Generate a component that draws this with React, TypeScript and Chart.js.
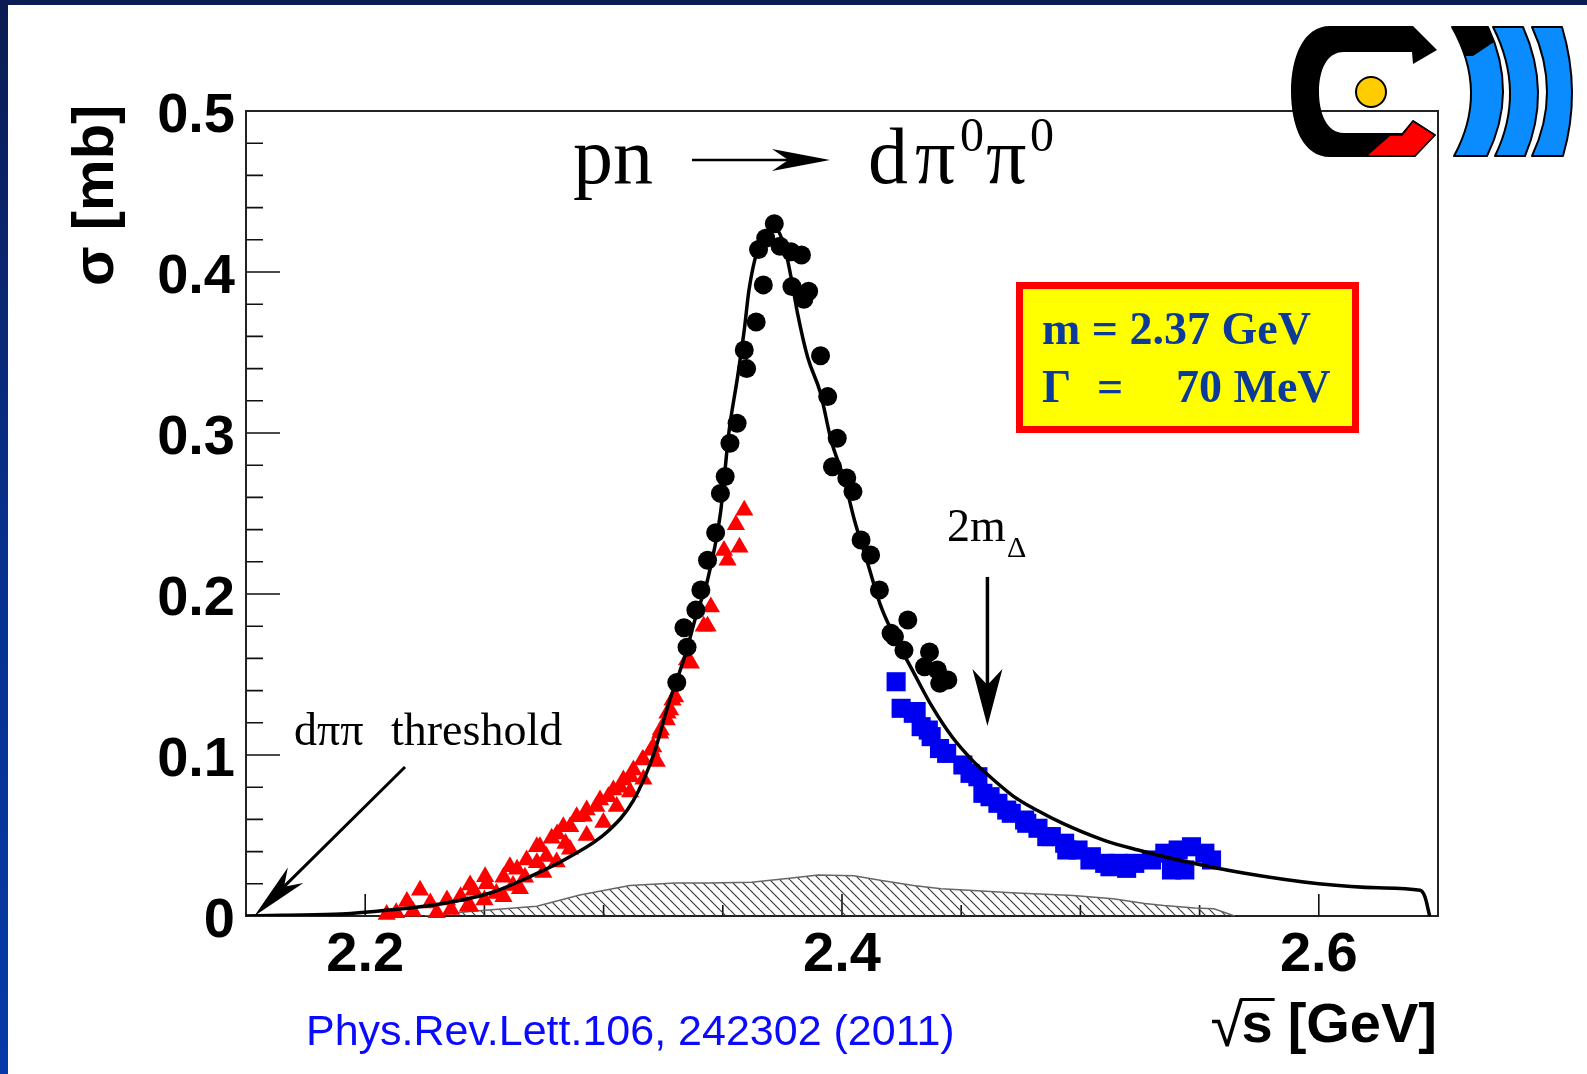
import React, { useEffect, useRef } from 'react';
import { Chart, registerables } from 'chart.js';

Chart.register(...registerables);

const SANS = '"Liberation Sans", Arial, Helvetica, sans-serif';
const SERIF = '"Liberation Serif", "Times New Roman", serif';

// ---- axes ----
const X_MIN = 2.15;
const X_MAX = 2.65;
const Y_MIN = 0;
const Y_MAX = 0.5;
const xTickValues = [2.2, 2.4, 2.6];
const yTickValues = [0, 0.1, 0.2, 0.3, 0.4, 0.5];
const xMinorTickValues = [2.25, 2.3, 2.35, 2.45, 2.5, 2.55];
const yMinorTickValues = [
  0.02, 0.04, 0.06, 0.08, 0.12, 0.14, 0.16, 0.18, 0.22, 0.24, 0.26, 0.28,
  0.32, 0.34, 0.36, 0.38, 0.42, 0.44, 0.46, 0.48,
];

// ---- data: sqrt(s) [GeV], sigma [mb] ----
// WASA data (black circles)
const wasaPoints: [number, number][] = [
  [2.3307, 0.145], [2.335, 0.167], [2.3337, 0.179], [2.3387, 0.19], [2.3408, 0.2025],
  [2.3436, 0.221], [2.347, 0.238], [2.349, 0.2625], [2.351, 0.273], [2.353, 0.2936],
  [2.356, 0.306], [2.36, 0.34], [2.359, 0.3516], [2.364, 0.369], [2.367, 0.392],
  [2.365, 0.414], [2.368, 0.421], [2.3716, 0.43], [2.374, 0.416], [2.3786, 0.4126],
  [2.383, 0.4106], [2.379, 0.391], [2.386, 0.388], [2.384, 0.383], [2.391, 0.348],
  [2.394, 0.3226], [2.398, 0.2967], [2.396, 0.279], [2.402, 0.272], [2.4046, 0.2636],
  [2.408, 0.2335], [2.412, 0.2242], [2.4157, 0.2025], [2.4206, 0.1756], [2.4276, 0.1839],
  [2.422, 0.1735], [2.426, 0.165], [2.4367, 0.164], [2.4346, 0.1548], [2.44, 0.1528],
  [2.4444, 0.1466], [2.441, 0.1445],
];

// earlier data, low-energy side (red triangles)
const redTriangles: [number, number][] = [
  [2.209, 0.001], [2.213, 0.002], [2.2175, 0.009], [2.22, 0.003], [2.223, 0.016],
  [2.2273, 0.008], [2.23, 0.002], [2.2343, 0.01], [2.236, 0.004], [2.24, 0.012],
  [2.243, 0.006], [2.2455, 0.016], [2.25, 0.01], [2.251, 0.02], [2.255, 0.014],
  [2.258, 0.024], [2.262, 0.019], [2.2637, 0.029], [2.267, 0.024], [2.272, 0.033],
  [2.272, 0.043], [2.276, 0.037], [2.2805, 0.051], [2.284, 0.045], [2.286, 0.0555],
  [2.2917, 0.062], [2.297, 0.068], [2.302, 0.074], [2.307, 0.08], [2.3113, 0.0865],
  [2.3163, 0.097], [2.32, 0.103], [2.324, 0.1155], [2.3268, 0.126], [2.3289, 0.134],
  [2.335, 0.159], [2.3366, 0.157], [2.342, 0.18], [2.3436, 0.18], [2.345, 0.192],
  [2.3505, 0.227], [2.352, 0.221], [2.3555, 0.243], [2.357, 0.229], [2.359, 0.252],
  [2.244, 0.0193], [2.2503, 0.0244], [2.2607, 0.0306], [2.2677, 0.0348], [2.2733, 0.043],
  [2.2782, 0.0483], [2.2831, 0.0555], [2.2887, 0.0617], [2.2929, 0.0658], [2.2985, 0.072],
  [2.3041, 0.0783], [2.3083, 0.0845], [2.3125, 0.0907], [2.3167, 0.0969], [2.3208, 0.105],
  [2.3237, 0.1135], [2.3265, 0.1217], [2.3279, 0.128], [2.33, 0.136],
  [2.244, 0.006], [2.258, 0.012], [2.2649, 0.017], [2.2747, 0.027], [2.2803, 0.0335],
  [2.2859, 0.0415], [2.2929, 0.05], [2.2999, 0.058], [2.3055, 0.068], [2.3111, 0.077],
  [2.3167, 0.085], [2.3223, 0.096],
];

// earlier data, high-energy side (blue squares)
const blueSquares: [number, number][] = [
  [2.4227, 0.1455], [2.4248, 0.129], [2.4311, 0.127], [2.4332, 0.1176], [2.4374, 0.1114],
  [2.4409, 0.104], [2.4507, 0.0938], [2.457, 0.0865], [2.4591, 0.0762], [2.4654, 0.07],
  [2.471, 0.0638], [2.4766, 0.0596], [2.4822, 0.0545], [2.4878, 0.0493], [2.4934, 0.0452],
  [2.499, 0.041], [2.5046, 0.0368], [2.5102, 0.0327], [2.5158, 0.0327], [2.5228, 0.0327],
  [2.5298, 0.0348], [2.5354, 0.039], [2.541, 0.041], [2.5466, 0.043], [2.5522, 0.039],
  [2.555, 0.0348], [2.5438, 0.0286], [2.5382, 0.0286],
  [2.4299, 0.1259], [2.4362, 0.1155], [2.4439, 0.101], [2.4537, 0.0886], [2.4621, 0.0741],
  [2.4691, 0.0658], [2.4775, 0.0576], [2.4859, 0.0493], [2.4943, 0.041], [2.504, 0.0348],
  [2.5124, 0.0306], [2.5194, 0.0296],
];

// resonance fit (black curve)
const fitCurve: [number, number][] = [
  [2.15, 0.0], [2.165, 0.0005], [2.19, 0.0012], [2.21, 0.0037], [2.2315, 0.0075],
  [2.2525, 0.0143], [2.2677, 0.0235], [2.2849, 0.036], [2.3017, 0.0525], [2.3124, 0.0715],
  [2.3209, 0.1], [2.3273, 0.132], [2.3342, 0.162], [2.3391, 0.188],
  [2.3436, 0.2087], [2.349, 0.25], [2.3527, 0.302], [2.356, 0.333], [2.359, 0.364],
  [2.361, 0.389], [2.3646, 0.4137], [2.3688, 0.422], [2.3716, 0.428], [2.3758, 0.416],
  [2.3786, 0.397], [2.3814, 0.374], [2.3856, 0.347], [2.391, 0.3247], [2.3954, 0.2957],
  [2.401, 0.2708], [2.4052, 0.246], [2.4108, 0.219], [2.4164, 0.192], [2.424, 0.168],
  [2.4294, 0.153], [2.4378, 0.13], [2.4463, 0.111], [2.4548, 0.0965], [2.4598, 0.0895],
  [2.4718, 0.0745], [2.482, 0.0655], [2.4926, 0.0575], [2.51, 0.047], [2.5242, 0.041],
  [2.544, 0.0338], [2.569, 0.0265], [2.6, 0.02], [2.625, 0.0175], [2.6425, 0.016],
  [2.6445, 0.012], [2.6465, 0.0],
];

// systematic uncertainty (hatched band)
const sysBand: [number, number][] = [
  [2.225, 0], [2.245, 0.003], [2.272, 0.006], [2.29, 0.013], [2.311, 0.019],
  [2.33, 0.0205], [2.344, 0.0205], [2.362, 0.021], [2.378, 0.0235], [2.39, 0.0255],
  [2.405, 0.025], [2.4166, 0.022], [2.43, 0.019], [2.4416, 0.017], [2.455, 0.0158],
  [2.471, 0.0145], [2.497, 0.0127], [2.5137, 0.0107], [2.527, 0.0078], [2.535, 0.0065],
  [2.548, 0.005], [2.556, 0.0045], [2.5647, 0],
];

const toXY = (arr: [number, number][]) => arr.map(([x, y]) => ({ x, y }));

function drawArrow(
  ctx: CanvasRenderingContext2D,
  x1: number, y1: number, x2: number, y2: number,
  headLen: number, halfW: number, lw: number,
) {
  const ang = Math.atan2(y2 - y1, x2 - x1);
  const c = Math.cos(ang);
  const s = Math.sin(ang);
  const bx = x2 - c * headLen;
  const by = y2 - s * headLen;
  const nx = x2 - c * headLen * 0.72;
  const ny = y2 - s * headLen * 0.72;
  ctx.strokeStyle = '#000';
  ctx.fillStyle = '#000';
  ctx.lineWidth = lw;
  ctx.beginPath();
  ctx.moveTo(x1, y1);
  ctx.lineTo(nx, ny);
  ctx.stroke();
  ctx.beginPath();
  ctx.moveTo(x2, y2);
  ctx.lineTo(bx - s * halfW, by + c * halfW);
  ctx.lineTo(nx, ny);
  ctx.lineTo(bx + s * halfW, by - c * halfW);
  ctx.closePath();
  ctx.fill();
}

function bandPath(
  ctx: CanvasRenderingContext2D,
  tl: number, tr: number, ml: number, mr: number, bl: number, br: number,
  top: number, mid: number, bot: number,
) {
  const cl = (4 * ml - tl - bl) / 2;
  const cr = (4 * mr - tr - br) / 2;
  ctx.beginPath();
  ctx.moveTo(tl, top);
  ctx.quadraticCurveTo(cl, mid, bl, bot);
  ctx.lineTo(br, bot);
  ctx.quadraticCurveTo(cr, mid, tr, top);
  ctx.closePath();
}

function drawLogo(ctx: CanvasRenderingContext2D) {
  ctx.save();
  ctx.lineJoin = 'round';
  // black C
  ctx.beginPath();
  ctx.moveTo(1413, 26);
  ctx.lineTo(1330, 26);
  ctx.bezierCurveTo(1303, 26, 1291, 58, 1291, 91);
  ctx.bezierCurveTo(1291, 126, 1303, 157, 1330, 157);
  ctx.lineTo(1415, 157);
  ctx.lineTo(1436, 135);
  ctx.lineTo(1413, 120);
  ctx.lineTo(1402, 133);
  ctx.lineTo(1344, 133);
  ctx.bezierCurveTo(1326, 133, 1319, 112, 1319, 92);
  ctx.bezierCurveTo(1319, 71, 1326, 52, 1344, 52);
  ctx.lineTo(1412, 52);
  ctx.lineTo(1413, 64);
  ctx.lineTo(1437, 50);
  ctx.closePath();
  ctx.fillStyle = '#000';
  ctx.fill();
  // red segment
  ctx.beginPath();
  ctx.moveTo(1366, 156);
  ctx.lineTo(1390, 135);
  ctx.lineTo(1402, 135);
  ctx.lineTo(1413, 121);
  ctx.lineTo(1435, 135);
  ctx.lineTo(1415, 156);
  ctx.closePath();
  ctx.fillStyle = '#ff0000';
  ctx.fill();
  ctx.strokeStyle = '#000';
  ctx.lineWidth = 1.5;
  ctx.stroke();
  // yellow dot
  ctx.beginPath();
  ctx.arc(1371, 92, 15, 0, Math.PI * 2);
  ctx.fillStyle = '#ffcc00';
  ctx.fill();
  ctx.lineWidth = 2;
  ctx.stroke();
  // blue arcs
  const bands = [
    [1452, 1488, 1471, 1503, 1454, 1487],
    [1493, 1523, 1510, 1538, 1495, 1525],
    [1532, 1562, 1547, 1572, 1532, 1563],
  ];
  bands.forEach((b, i) => {
    bandPath(ctx, b[0], b[1], b[2], b[3], b[4], b[5], 27, 92, 156);
    ctx.fillStyle = '#0a8cff';
    ctx.fill();
    if (i === 0) {
      ctx.save();
      ctx.clip();
      ctx.beginPath();
      ctx.moveTo(1440, 20);
      ctx.lineTo(1500, 20);
      ctx.lineTo(1500, 38);
      ctx.lineTo(1473, 56);
      ctx.lineTo(1440, 56);
      ctx.closePath();
      ctx.fillStyle = '#000';
      ctx.fill();
      ctx.restore();
      bandPath(ctx, b[0], b[1], b[2], b[3], b[4], b[5], 27, 92, 156);
    }
    ctx.strokeStyle = '#000';
    ctx.lineWidth = 2;
    ctx.stroke();
  });
  ctx.restore();
}

const decorPlugin = {
  id: 'decor',
  beforeDraw(chart: any) {
    const ctx: CanvasRenderingContext2D = chart.ctx;
    ctx.save();
    ctx.fillStyle = '#ffffff';
    ctx.fillRect(0, 0, chart.width, chart.height);
    const g = ctx.createLinearGradient(0, 0, 0, chart.height);
    g.addColorStop(0, '#0b1c52');
    g.addColorStop(0.5, '#08308c');
    g.addColorStop(1, '#063aa8');
    ctx.fillStyle = g;
    ctx.fillRect(0, 0, 8, chart.height);
    ctx.fillStyle = '#0b1c52';
    ctx.fillRect(0, 0, chart.width, 5);
    ctx.restore();
  },
  beforeDatasetsDraw(chart: any) {
    const ctx: CanvasRenderingContext2D = chart.ctx;
    const a = chart.chartArea;
    const xs = chart.scales.x;
    const ys = chart.scales.y;
    ctx.save();
    ctx.strokeStyle = '#111';
    ctx.lineWidth = 1.6;
    ctx.beginPath();
    yTickValues.forEach((v) => {
      const p = ys.getPixelForValue(v);
      ctx.moveTo(a.left, p);
      ctx.lineTo(a.left + 34, p);
    });
    yMinorTickValues.forEach((v) => {
      const p = ys.getPixelForValue(v);
      ctx.moveTo(a.left, p);
      ctx.lineTo(a.left + 17, p);
    });
    xTickValues.forEach((v) => {
      const p = xs.getPixelForValue(v);
      ctx.moveTo(p, a.bottom);
      ctx.lineTo(p, a.bottom - 22);
    });
    xMinorTickValues.forEach((v) => {
      const p = xs.getPixelForValue(v);
      ctx.moveTo(p, a.bottom);
      ctx.lineTo(p, a.bottom - 11);
    });
    ctx.stroke();
    ctx.lineWidth = 2;
    ctx.strokeStyle = '#222';
    ctx.strokeRect(a.left, a.top, a.right - a.left, a.bottom - a.top);
    ctx.restore();
  },
  afterDraw(chart: any) {
    const ctx: CanvasRenderingContext2D = chart.ctx;
    const xs = chart.scales.x;
    const ys = chart.scales.y;
    ctx.save();
    ctx.fillStyle = '#000';
    ctx.textAlign = 'left';
    ctx.textBaseline = 'alphabetic';

    // title
    ctx.font = `80px ${SERIF}`;
    ctx.fillText('pn', 573, 183);
    ctx.fillText('d', 868, 183);
    ctx.fillText('π', 915, 183);
    ctx.fillText('π', 986, 183);
    ctx.font = `48px ${SERIF}`;
    ctx.fillText('0', 960, 151);
    ctx.fillText('0', 1030, 151);
    drawArrow(ctx, 692, 160, 830, 160, 58, 11, 2.5);

    // threshold annotation
    ctx.font = `46px ${SERIF}`;
    ctx.fillText('dππ', 294, 745);
    ctx.fillText('threshold', 391, 745);
    drawArrow(ctx, 405, 767, xs.getPixelForValue(2.1535), ys.getPixelForValue(0), 58, 11, 3);

    // 2 m_Delta
    ctx.font = `46px ${SERIF}`;
    ctx.fillText('2m', 947, 541);
    ctx.font = `30px ${SERIF}`;
    ctx.fillText('Δ', 1007, 557);
    const xd = xs.getPixelForValue(2.461);
    drawArrow(ctx, xd, ys.getPixelForValue(0.2106), xd, ys.getPixelForValue(0.118), 57, 15, 3.5);

    // parameter box
    ctx.fillStyle = '#ffff00';
    ctx.fillRect(1016, 282, 343, 151);
    ctx.strokeStyle = '#ff0000';
    ctx.lineWidth = 7;
    ctx.strokeRect(1019.5, 285.5, 336, 144);
    ctx.fillStyle = '#0b3a9a';
    ctx.font = `bold 46px ${SERIF}`;
    ctx.fillText('m = 2.37 GeV', 1042, 344);
    ctx.fillText('Γ', 1042, 402);
    ctx.fillText('=', 1097, 402);
    ctx.fillText('70 MeV', 1176, 402);

    // axis titles
    ctx.fillStyle = '#000';
    ctx.save();
    ctx.translate(113, 286);
    ctx.rotate(-Math.PI / 2);
    ctx.font = `bold 58px ${SANS}`;
    ctx.fillText('σ [mb]', 0, 0);
    ctx.restore();

    ctx.font = `bold 56px ${SANS}`;
    ctx.textAlign = 'right';
    ctx.fillText('[GeV]', 1437, 1042);
    const wG = ctx.measureText('[GeV]').width;
    const sRight = 1437 - wG - 15;
    ctx.fillText('s', sRight, 1042);
    const wS = ctx.measureText('s').width;
    const sLeft = sRight - wS;
    ctx.font = `60px ${SANS}`;
    ctx.fillText('√', sLeft + 2, 1046);
    const m = ctx.measureText('√');
    const topY = 1046 - m.actualBoundingBoxAscent;
    ctx.strokeStyle = '#000';
    ctx.lineWidth = 3;
    ctx.beginPath();
    ctx.moveTo(sLeft - 1, topY + 1.5);
    ctx.lineTo(sRight + 2, topY + 1.5);
    ctx.stroke();

    // citation
    ctx.textAlign = 'left';
    ctx.fillStyle = '#0a0aff';
    ctx.font = `43px ${SANS}`;
    ctx.fillText('Phys.Rev.Lett.106, 242302 (2011)', 306, 1045);

    drawLogo(ctx);
    ctx.restore();
  },
};

function makeHatch(ctx: CanvasRenderingContext2D): CanvasPattern | string {
  const c = document.createElement('canvas');
  const s = 10;
  c.width = s;
  c.height = s;
  const g = c.getContext('2d');
  if (!g) return 'rgba(0,0,0,0.2)';
  g.strokeStyle = '#3a3a3a';
  g.lineWidth = 1.2;
  g.beginPath();
  [-s, 0, s].forEach((o) => {
    g.moveTo(o, 0);
    g.lineTo(o + s, s);
  });
  g.stroke();
  return ctx.createPattern(c, 'repeat') || 'rgba(0,0,0,0.2)';
}

export default function App() {
  const ref = useRef<HTMLCanvasElement | null>(null);

  useEffect(() => {
    document.body.style.margin = '0';
    document.body.style.overflow = 'hidden';
    const canvas = ref.current;
    if (!canvas) return;
    const ctx2d = canvas.getContext('2d') as CanvasRenderingContext2D;
    const hatch = makeHatch(ctx2d);
    const tickFont = { family: SANS, size: 56, weight: 'bold' as const, lineHeight: 1 };

    const chart = new Chart(canvas, {
      type: 'line',
      data: {
        datasets: [
          {
            label: 'fit',
            data: toXY(fitCurve),
            borderColor: '#000',
            borderWidth: 3.5,
            pointRadius: 0,
            pointHitRadius: 0,
            fill: false,
            showLine: true,
            cubicInterpolationMode: 'monotone',
            order: 0,
          },
          {
            label: 'WASA',
            data: toXY(wasaPoints),
            showLine: false,
            pointStyle: 'circle',
            pointRadius: 9.5,
            pointBackgroundColor: '#000',
            pointBorderColor: '#000',
            pointBorderWidth: 0,
            order: 1,
          },
          {
            label: 'high',
            data: toXY(blueSquares),
            showLine: false,
            pointStyle: 'rect',
            pointRadius: 13.5,
            pointBackgroundColor: '#0000f0',
            pointBorderColor: '#0000f0',
            pointBorderWidth: 0,
            clip: false,
            order: 2,
          },
          {
            label: 'low',
            data: toXY(redTriangles),
            showLine: false,
            pointStyle: 'triangle',
            pointRadius: 10.5,
            pointBackgroundColor: '#ff0000',
            pointBorderColor: '#ff0000',
            pointBorderWidth: 0,
            clip: false,
            order: 3,
          },
          {
            label: 'sys',
            data: toXY(sysBand),
            borderColor: '#666',
            borderWidth: 1.5,
            backgroundColor: hatch as any,
            fill: 'origin',
            pointRadius: 0,
            pointHitRadius: 0,
            showLine: true,
            tension: 0,
            order: 4,
          },
        ] as any,
      },
      options: {
        animation: false,
        responsive: false,
        maintainAspectRatio: false,
        events: [],
        layout: { padding: { left: 0, top: 111, right: 149, bottom: 0 } },
        plugins: {
          legend: { display: false },
          tooltip: { enabled: false },
          title: { display: false },
        },
        scales: {
          x: {
            type: 'linear',
            min: X_MIN,
            max: X_MAX,
            position: 'bottom',
            afterFit: (s: any) => {
              s.height = 158;
            },
            afterBuildTicks: (s: any) => {
              s.ticks = xTickValues.map((v) => ({ value: v }));
            },
            grid: { display: false, drawTicks: false },
            border: { display: false },
            ticks: {
              font: tickFont,
              color: '#000',
              padding: 12,
              maxRotation: 0,
              minRotation: 0,
              autoSkip: false,
              callback: (v: any) => String(v),
            },
          },
          y: {
            type: 'linear',
            min: Y_MIN,
            max: Y_MAX,
            afterFit: (s: any) => {
              s.width = 246;
            },
            afterBuildTicks: (s: any) => {
              s.ticks = yTickValues.map((v) => ({ value: v }));
            },
            grid: { display: false, drawTicks: false },
            border: { display: false },
            ticks: {
              font: tickFont,
              color: '#000',
              padding: 11,
              labelOffset: 6,
              autoSkip: false,
              callback: (v: any) => String(v),
            },
          },
        },
      } as any,
      plugins: [decorPlugin],
    });
    return () => chart.destroy();
  }, []);

  return (
    <div style={{ position: 'absolute', left: 0, top: 0, width: 1587, height: 1074, background: '#fff' }}>
      <canvas ref={ref} width={1587} height={1074} style={{ display: 'block' }} />
    </div>
  );
}
